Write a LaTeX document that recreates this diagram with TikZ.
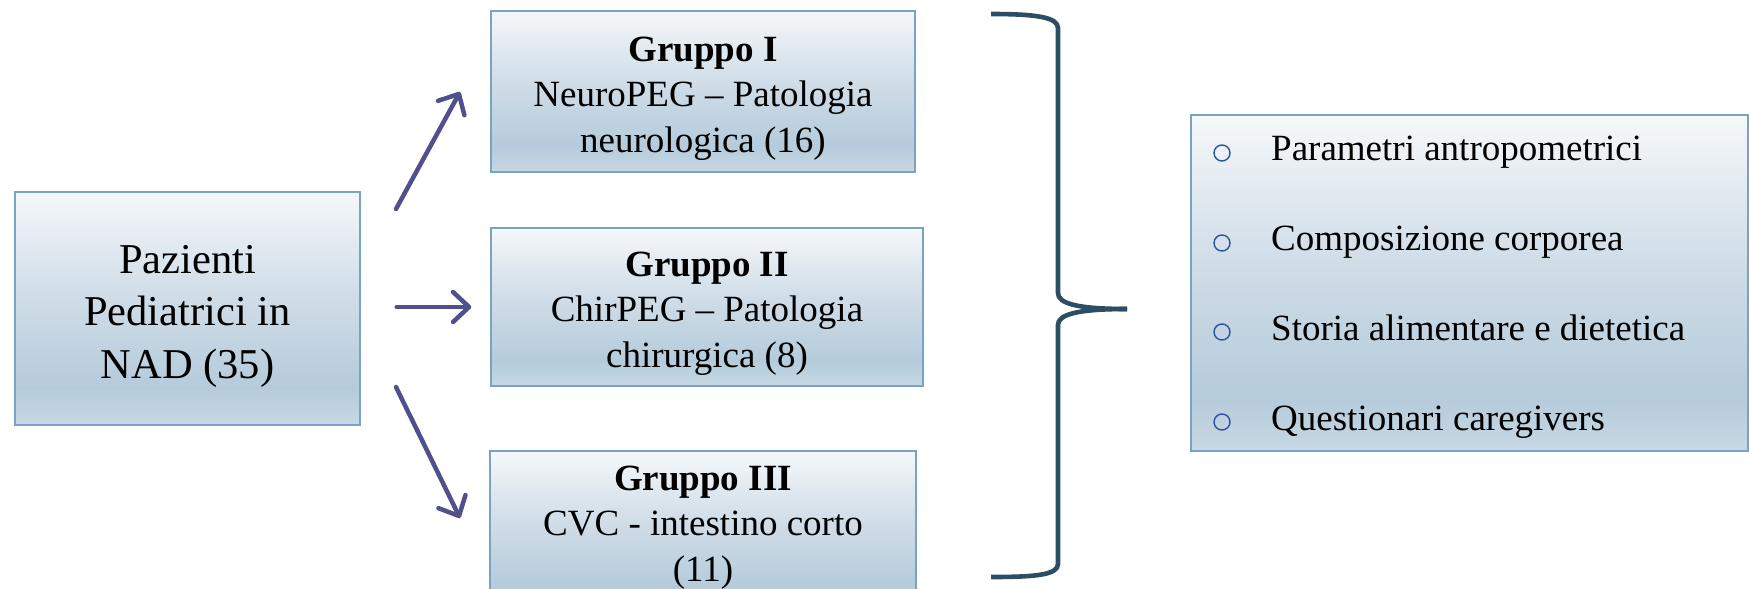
\documentclass[tikz,border=0pt]{standalone}
\usepackage{fontspec}
\setmainfont{Liberation Serif}
\usetikzlibrary{arrows.meta}
\definecolor{boxTop}{RGB}{245,248,250}
\definecolor{boxMid}{RGB}{211,223,233}
\definecolor{boxDark}{RGB}{181,203,219}
\definecolor{boxBot}{RGB}{200,216,228}
\definecolor{boxLine}{RGB}{122,162,196}
\definecolor{arrCol}{RGB}{80,80,140}
\definecolor{braceCol}{RGB}{44,77,99}
\definecolor{bulCol}{RGB}{47,82,160}
\pgfdeclareverticalshading{boxgrad}{100bp}{color(0bp)=(boxBot); color(25bp)=(boxBot); color(33bp)=(boxDark); color(55bp)=(boxMid); color(75bp)=(boxTop); color(100bp)=(boxTop)}
\begin{document}
\begin{tikzpicture}[x=1pt,y=-1pt,
  gbox/.style={draw=boxLine, line width=1.4pt, shading=boxgrad, rectangle, inner sep=0pt},
  gtext/.style={inner sep=0pt, text width=420pt, align=flush center, font=\fontsize{37}{45.5}\selectfont},
  ltext/.style={inner sep=0pt, text width=340pt, align=flush center, font=\fontsize{42.5}{52.5}\selectfont},
  itext/.style={inner sep=0pt, font=\fontsize{37}{45}\selectfont},
  bullet/.style={circle, draw=bulCol, line width=1.4pt, minimum size=16pt, inner sep=0pt},
  arr/.style={draw=arrCol, line width=4.5pt, line cap=round, -{Straight Barb[length=16pt,width=30pt,round]}},
  brace/.style={draw=braceCol, line width=4.6pt}]
\useasboundingbox (0,0) rectangle (1749,589);
\clip (0,0) rectangle (1749,589);

% left box
\node[gbox, minimum width=345pt, minimum height=233pt] (left) at (187.5,308.5) {};
\node[ltext, anchor=base] (lefttext) at (187.5,273) {Pazienti\\Pediatrici in\\NAD (35)};

% group boxes
\node[gbox, minimum width=424pt, minimum height=161pt] (g1) at (703,91.5) {};
\node[gtext, anchor=base] (g1text) at (703,61) {\textbf{Gruppo I}\\NeuroPEG – Patologia\\neurologica (16)};

\node[gbox, minimum width=432pt, minimum height=158pt] (g2) at (707,307) {};
\node[gtext, anchor=base] (g2text) at (707,276) {\textbf{Gruppo II}\\ChirPEG – Patologia\\chirurgica (8)};

\node[gbox, minimum width=426pt, minimum height=161pt] (g3) at (703,531.5) {};
\node[gtext, anchor=base] (g3text) at (703,490) {\textbf{Gruppo III}\\CVC - intestino corto\\(11)};

% arrows
\coordinate (a1s) at (396,209);
\coordinate (a1e) at (460,92);
\coordinate (a3s) at (396,387);
\coordinate (a3e) at (460,518);
\draw[arr] (a1s) -- (a1e);
\draw[arr, shorten <=36pt, shorten >=19pt] (left.east |- g2.west) -- (g2.west);
\draw[arr] (a3s) -- (a3e);

% brace
\coordinate (btip) at (1127,309);
\draw[brace] (991,14) .. controls (1035,14) and (1058,17) .. (1058,28)
  -- (1058,293) .. controls (1058,303) and (1075,309) .. (btip);
\draw[brace] (btip) .. controls (1075,309) and (1058,315) .. (1058,325)
  -- (1058,564) .. controls (1058,575) and (1035,577) .. (991,577);

% right box
\node[gbox, minimum width=557pt, minimum height=336pt] (rb) at (1469.5,283) {};
\node[bullet] (b1) at (1222,153) {};
\node[bullet] (b2) at (1222,243) {};
\node[bullet] (b3) at (1222,332) {};
\node[bullet] (b4) at (1222,422) {};
\node[itext, anchor=base west] (t1) at (1271,160) {Parametri antropometrici};
\node[itext, anchor=base west] (t2) at (1271,250) {Composizione corporea};
\node[itext, anchor=base west] (t3) at (1271,340) {Storia alimentare e dietetica};
\node[itext, anchor=base west] (t4) at (1271,430) {Questionari caregivers};
\end{tikzpicture}
\end{document}
